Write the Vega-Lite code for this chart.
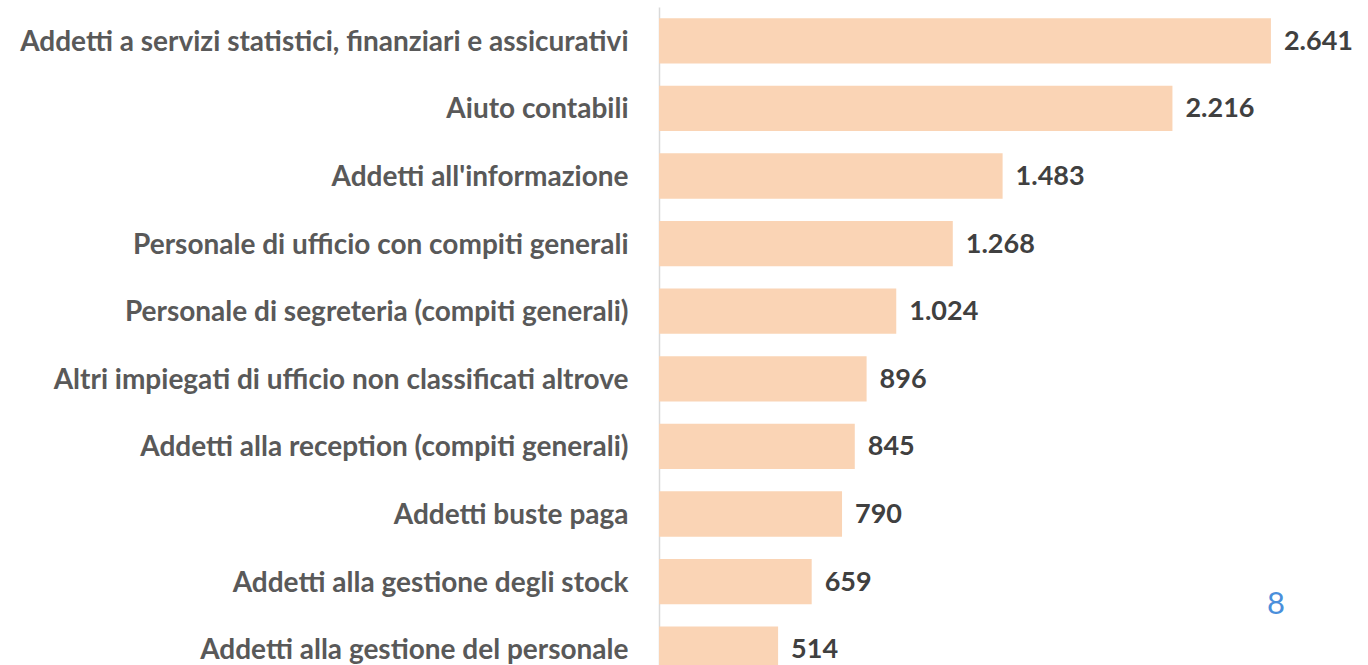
{
  "$schema": "https://vega.github.io/schema/vega-lite/v6.json",
  "autosize": "none",
  "width": 709,
  "height": 658,
  "padding": {"left": 659, "top": 7, "right": 0, "bottom": 0},
  "background": "white",
  "config": {
    "view": {"stroke": null},
    "locale": {"number": {"decimal": ",", "thousands": ".", "grouping": [3], "currency": ["€", ""]}}
  },
  "data": {
    "values": [
      {"categoria": "Addetti a servizi statistici, finanziari e assicurativi", "valore": 2641},
      {"categoria": "Aiuto contabili", "valore": 2216},
      {"categoria": "Addetti all'informazione", "valore": 1483},
      {"categoria": "Personale di ufficio con compiti generali\u2002", "valore": 1268},
      {"categoria": "Personale di segreteria (compiti generali)", "valore": 1024},
      {"categoria": "Altri impiegati di ufficio non classificati altrove", "valore": 896},
      {"categoria": "Addetti alla reception (compiti generali)", "valore": 845},
      {"categoria": "Addetti buste paga", "valore": 790},
      {"categoria": "Addetti alla gestione degli stock", "valore": 659},
      {"categoria": "Addetti alla gestione del personale", "valore": 514}
    ]
  },
  "encoding": {
    "y": {
      "field": "categoria",
      "type": "nominal",
      "sort": null,
      "scale": {"range": [0, 676], "paddingInner": 0.33, "paddingOuter": 0.165},
      "axis": {
        "title": null,
        "ticks": false,
        "labelPadding": 31,
        "labelOffset": 2,
        "labelFont": "Lato",
        "labelFontWeight": "bold",
        "labelFontSize": 28,
        "labelColor": "#595959",
        "labelLimit": 700,
        "domainColor": "#d9d9d9",
        "domainWidth": 1.5
      }
    },
    "x": {
      "field": "valore",
      "type": "quantitative",
      "scale": {"domain": [0, 3060]},
      "axis": null
    }
  },
  "layer": [
    {"mark": {"type": "bar", "color": "#FAD4B5"}},
    {
      "mark": {"type": "text", "align": "left", "dx": 13, "dy": 1, "font": "Lato", "fontWeight": "bold", "fontSize": 27, "color": "#404040"},
      "encoding": {"text": {"field": "valore", "type": "quantitative", "format": ",d"}}
    },
    {
      "data": {"values": [{"categoria": "Addetti alla gestione degli stock", "valore": 2663, "pagina": "8"}]},
      "mark": {"type": "text", "align": "center", "baseline": "middle", "dy": 23, "font": "Lato", "fontSize": 31, "color": "#4A8FDB"},
      "encoding": {
        "text": {"field": "pagina", "type": "nominal"}
      }
    }
  ]
}
